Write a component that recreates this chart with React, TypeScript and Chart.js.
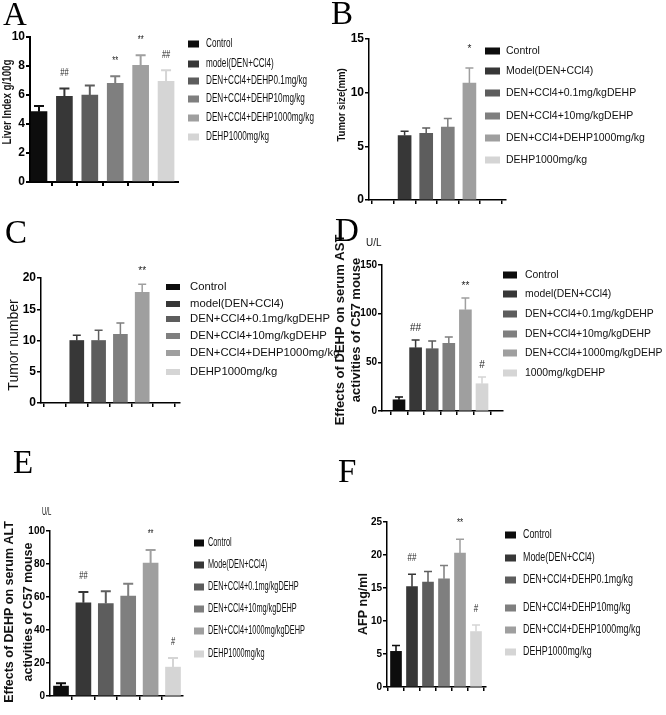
import React, { useEffect, useRef } from 'react';
import { Chart, registerables } from 'chart.js';

Chart.register(...registerables);

const W = 666;
const H = 715;
const SANS = '"Liberation Sans", Arial, Helvetica, sans-serif';
const SERIF = '"Liberation Serif", "Times New Roman", serif';

const barColors = ['#0d0d0d', '#373737', '#5d5d5d', '#7f7f7f', '#9f9f9f', '#d5d5d5'];

// ---- A: liver index ----
const liverLabels = ['Control', 'model(DEN+CCl4)', 'DEN+CCl4+DEHP0.1mg/kg', 'DEN+CCl4+DEHP10mg/kg', 'DEN+CCl4+DEHP1000mg/kg', 'DEHP1000mg/kg'];
const liverIndex = [4.85, 5.9, 6.0, 6.8, 8.05, 6.95];
const liverErrTop = [5.25, 6.45, 6.65, 7.3, 8.75, 7.7];
const liverMarks = ['', '##', '', '**', '**', '##'];
const liverTicks = { max: 10, step: 2 };

// ---- B: tumor size ----
const sizeLabels = ['Control', 'Model(DEN+CCl4)', 'DEN+CCl4+0.1mg/kgDEHP', 'DEN+CCl4+10mg/kgDEHP', 'DEN+CCl4+DEHP1000mg/kg', 'DEHP1000mg/kg'];
const tumorSize = [null, 6.0, 6.2, 6.8, 10.9, null];
const tumorSizeErrTop = [null, 6.4, 6.7, 7.6, 12.3, null];
const tumorSizeMarks = ['', '', '', '', '*', ''];
const sizeTicks = { max: 15, step: 5 };

// ---- C: tumor number ----
const numberLabels = ['Control', 'model(DEN+CCl4)', 'DEN+CCl4+0.1mg/kgDEHP', 'DEN+CCl4+10mg/kgDEHP', 'DEN+CCl4+DEHP1000mg/kg', 'DEHP1000mg/kg'];
const tumorNumber = [null, 10, 10, 11, 17.7, null];
const tumorNumberErrTop = [null, 10.85, 11.65, 12.8, 19.0, null];
const tumorNumberMarks = ['', '', '', '', '**', ''];
const numberTicks = { max: 20, step: 5 };

// ---- D: AST ----
const astLabels = ['Control', 'model(DEN+CCl4)', 'DEN+CCl4+0.1mg/kgDEHP', 'DEN+CCl4+10mg/kgDEHP', 'DEN+CCl4+1000mg/kgDEHP', '1000mg/kgDEHP'];
const astValues = [11.5, 65, 64, 69.5, 104, 28];
const astErrTop = [14.5, 73, 72, 76, 116, 35];
const astMarks = ['', '##', '', '', '**', '#'];
const astTicks = { max: 150, step: 50 };

// ---- E: ALT ----
const altLabels = ['Control', 'Mode(DEN+CCl4)', 'DEN+CCl4+0.1mg/kgDEHP', 'DEN+CCl4+10mg/kgDEHP', 'DEN+CCl4+1000mg/kgDEHP', 'DEHP1000mg/kg'];
const altValues = [6, 56.5, 56, 60.5, 80.5, 17.5];
const altErrTop = [7.8, 63, 63.5, 68, 88.5, 23];
const altMarks = ['', '##', '', '', '**', '#'];
const altTicks = { max: 100, step: 20 };

// ---- F: AFP ----
const afpLabels = ['Control', 'Mode(DEN+CCl4)', 'DEN+CCl4+DEHP0.1mg/kg', 'DEN+CCl4+DEHP10mg/kg', 'DEN+CCl4+DEHP1000mg/kg', 'DEHP1000mg/kg'];
const afpValues = [5.4, 15.2, 15.9, 16.4, 20.3, 8.4];
const afpErrTop = [6.3, 17.1, 17.5, 18.4, 22.4, 9.4];
const afpMarks = ['', '##', '', '', '**', '#'];
const afpTicks = { max: 25, step: 5 };

type Panel = {
  letter: string; letterX: number; letterY: number;
  labels: string[]; values: (number | null)[]; errTop: (number | null)[]; marks: string[];
  ticks: { max: number; step: number };
  area: [number, number, number, number];
  xMin: number; xMax: number; barW: number; errW: number; capHalf: number; markGap: number; markScale: number;
  axisW: number; tickSize: number;
  legend: { boxX: number; boxW: number; boxH: number; textX: number; rows: number[]; size: number; hscale: number };
  title: { lines: string[]; xs: number[]; y: number; size: number; bold: boolean; hscale: number };
  unit?: { text: string; x: number; y: number; size: number; hscale: number };
};

const panels: Panel[] = [
  {
    letter: 'A', letterX: 3, letterY: 25,
    labels: liverLabels, values: liverIndex, errTop: liverErrTop, marks: liverMarks, ticks: liverTicks,
    area: [30, 37, 178, 182], xMin: -0.354, xMax: 5.47, barW: 16, errW: 2, capHalf: 5, markGap: 15, markScale: 0.75,
    axisW: 2, tickSize: 12,
    legend: { boxX: 188, boxW: 11, boxH: 7, textX: 206, rows: [44, 64, 81, 99, 118, 137], size: 12, hscale: 0.68 },
    title: { lines: ['Liver Index g/100g'], xs: [8], y: 102, size: 12, bold: true, hscale: 0.81 },
  },
  {
    letter: 'B', letterX: 331, letterY: 24,
    labels: sizeLabels, values: tumorSize, errTop: tumorSizeErrTop, marks: tumorSizeMarks, ticks: sizeTicks,
    area: [369, 39, 506, 200], xMin: -0.648, xMax: 5.694, barW: 13, errW: 1.5, capHalf: 4, markGap: 19, markScale: 1,
    axisW: 1.5, tickSize: 12,
    legend: { boxX: 485, boxW: 15, boxH: 7, textX: 506, rows: [51, 71, 93, 116, 138, 160], size: 10.5, hscale: 1 },
    title: { lines: ['Tumor size(mm)'], xs: [342], y: 105, size: 11, bold: true, hscale: 0.87 },
  },
  {
    letter: 'C', letterX: 5, letterY: 243,
    labels: numberLabels, values: tumorNumber, errTop: tumorNumberErrTop, marks: tumorNumberMarks, ticks: numberTicks,
    area: [41, 278, 180, 403], xMin: -0.642, xMax: 5.734, barW: 14, errW: 1.5, capHalf: 4, markGap: 13, markScale: 1,
    axisW: 1.5, tickSize: 12,
    legend: { boxX: 166, boxW: 14, boxH: 6, textX: 190, rows: [287, 304, 319, 336, 353, 372], size: 11.3, hscale: 1 },
    title: { lines: ['Tumor number'], xs: [14], y: 345, size: 14, bold: false, hscale: 1 },
  },
  {
    letter: 'D', letterX: 335, letterY: 241,
    labels: astLabels, values: astValues, errTop: astErrTop, marks: astMarks, ticks: astTicks,
    area: [382, 265, 503, 411], xMin: -1.024, xMax: 6.265, barW: 12, errW: 1.5, capHalf: 4, markGap: 12, markScale: 1,
    axisW: 1.5, tickSize: 10,
    legend: { boxX: 503, boxW: 14, boxH: 7, textX: 525, rows: [275, 294, 314, 334, 353, 373], size: 10.4, hscale: 1 },
    title: { lines: ['Effects of DEHP on serum AST', 'activities of C57 mouse'], xs: [340, 356], y: 330, size: 13, bold: true, hscale: 1 },
    unit: { text: 'U/L', x: 366, y: 243, size: 11, hscale: 0.9 },
  },
  {
    letter: 'E', letterX: 13, letterY: 473,
    labels: altLabels, values: altValues, errTop: altErrTop, marks: altMarks, ticks: altTicks,
    area: [50, 531, 183, 696], xMin: -0.491, xMax: 5.446, barW: 15, errW: 2, capHalf: 5, markGap: 16, markScale: 0.75,
    axisW: 1.5, tickSize: 10,
    legend: { boxX: 194, boxW: 10, boxH: 7, textX: 208, rows: [543, 565, 587, 609, 631, 654], size: 12, hscale: 0.61 },
    title: { lines: ['Effects of DEHP on serum ALT', 'activities of C57 mouse'], xs: [10, 29], y: 612, size: 12.5, bold: true, hscale: 1 },
    unit: { text: 'U/L', x: 42, y: 512, size: 10, hscale: 0.6 },
  },
  {
    letter: 'F', letterX: 338, letterY: 482,
    labels: afpLabels, values: afpValues, errTop: afpErrTop, marks: afpMarks, ticks: afpTicks,
    area: [387, 522, 486, 687], xMin: -0.5625, xMax: 5.625, barW: 11, errW: 1.5, capHalf: 4, markGap: 16, markScale: 0.8,
    axisW: 1.5, tickSize: 10,
    legend: { boxX: 505, boxW: 11, boxH: 7, textX: 523, rows: [535, 558, 580, 608, 630, 652], size: 12.5, hscale: 0.71 },
    title: { lines: ['AFP ng/ml'], xs: [364], y: 604, size: 12.5, bold: true, hscale: 1 },
  },
];

const Y_W = 26;
const X_H = 8;

function drawText(
  ctx: CanvasRenderingContext2D, text: string, x: number, y: number, font: string,
  o: { align?: CanvasTextAlign; baseline?: CanvasTextBaseline; rotate?: number; hscale?: number; color?: string } = {}
) {
  ctx.save();
  ctx.translate(x, y);
  if (o.rotate) ctx.rotate(o.rotate);
  ctx.scale(o.hscale ?? 1, 1);
  ctx.font = font;
  ctx.textAlign = o.align ?? 'left';
  ctx.textBaseline = o.baseline ?? 'middle';
  ctx.fillStyle = o.color ?? '#000';
  ctx.fillText(text, 0, 0);
  ctx.restore();
}

function extrasPlugin(p: Panel) {
  return {
    id: 'panelExtras',
    afterDatasetsDraw(chart: any) {
      const ctx: CanvasRenderingContext2D = chart.ctx;
      const meta = chart.getDatasetMeta(0);
      const ys = chart.scales.y;
      p.values.forEach((v, i) => {
        const e = p.errTop[i];
        if (v == null || e == null) return;
        const bar = meta.data[i];
        const x = bar.x;
        const yb = bar.y;
        const yt = ys.getPixelForValue(e);
        ctx.save();
        ctx.strokeStyle = barColors[i];
        ctx.lineWidth = p.errW;
        ctx.beginPath();
        ctx.moveTo(x, yb);
        ctx.lineTo(x, yt);
        ctx.moveTo(x - p.capHalf, yt);
        ctx.lineTo(x + p.capHalf, yt);
        ctx.stroke();
        ctx.restore();
        if (p.marks[i]) {
          drawText(ctx, p.marks[i], x, yt - p.markGap, `10px ${SANS}`, { align: 'center', hscale: p.markScale, color: '#222' });
        }
      });
    },
    afterDraw(chart: any) {
      const ctx: CanvasRenderingContext2D = chart.ctx;
      const lg = p.legend;
      p.labels.forEach((label, i) => {
        const y = lg.rows[i];
        ctx.save();
        ctx.fillStyle = barColors[i];
        ctx.fillRect(lg.boxX, y - lg.boxH / 2, lg.boxW, lg.boxH);
        ctx.restore();
        drawText(ctx, label, lg.textX, y, `${lg.size}px ${SANS}`, { hscale: lg.hscale, color: '#111' });
      });
      const t = p.title;
      t.lines.forEach((line, k) => {
        drawText(ctx, line, t.xs[k], t.y, `${t.bold ? 'bold ' : ''}${t.size}px ${SANS}`, {
          align: 'center', rotate: -Math.PI / 2, hscale: t.hscale, color: '#111',
        });
      });
      if (p.unit) {
        const u = p.unit;
        drawText(ctx, u.text, u.x, u.y, `${u.size}px ${SANS}`, { hscale: u.hscale, color: '#111' });
      }
      drawText(ctx, p.letter, p.letterX, p.letterY, `33px ${SERIF}`, { baseline: 'alphabetic', color: '#000' });
    },
  };
}

function PanelChart({ p }: { p: Panel }) {
  const ref = useRef<HTMLCanvasElement | null>(null);
  useEffect(() => {
    if (!ref.current) return;
    const [l, t, r, b] = p.area;
    const chart = new Chart(ref.current, {
      type: 'bar',
      data: {
        datasets: [
          {
            label: p.letter,
            data: p.values.map((v, i) => ({ x: i, y: v })) as any,
            backgroundColor: barColors,
            borderWidth: 0,
            barThickness: p.barW,
          },
        ],
      },
      options: {
        responsive: false,
        animation: false,
        events: [],
        layout: { padding: { left: l - Y_W, top: t, right: W - r, bottom: H - b - X_H } },
        plugins: { legend: { display: false }, tooltip: { enabled: false }, title: { display: false } },
        scales: {
          x: {
            type: 'linear',
            min: p.xMin,
            max: p.xMax,
            offset: false,
            ticks: { display: false, stepSize: 1, includeBounds: false },
            grid: { drawOnChartArea: false, drawTicks: true, tickLength: 4, color: '#000', lineWidth: p.axisW },
            border: { display: true, color: '#000', width: p.axisW },
            afterFit: (s: any) => { s.height = X_H; },
          },
          y: {
            min: 0,
            max: p.ticks.max,
            ticks: {
              stepSize: p.ticks.step,
              color: '#000',
              padding: 1,
              font: { family: SANS, size: p.tickSize, weight: 'bold' },
            },
            grid: { drawOnChartArea: false, drawTicks: true, tickLength: 4, color: '#000', lineWidth: p.axisW },
            border: { display: true, color: '#000', width: p.axisW },
            afterFit: (s: any) => { s.width = Y_W; },
          },
        },
      } as any,
      plugins: [extrasPlugin(p)],
    });
    return () => chart.destroy();
  }, [p]);
  return <canvas ref={ref} width={W} height={H} style={{ position: 'absolute', left: 0, top: 0 }} />;
}

export default function App() {
  return (
    <div style={{ position: 'absolute', left: 0, top: 0, width: W, height: H, background: '#fff', overflow: 'hidden' }}>
      {panels.map((p) => (
        <PanelChart key={p.letter} p={p} />
      ))}
    </div>
  );
}
